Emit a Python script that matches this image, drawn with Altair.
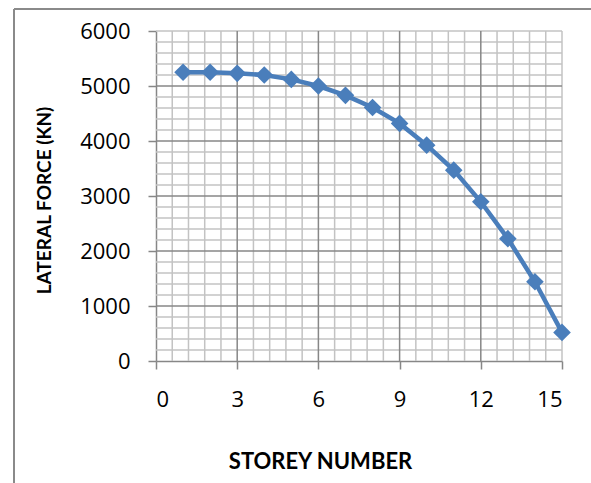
import altair as alt
import pandas as pd

# Storey number vs lateral force (kN)
storey = [1, 2, 3, 4, 5, 6, 7, 8, 9, 10, 11, 12, 13, 14, 15]
lateral_force = [5250, 5250, 5230, 5200, 5120, 5000, 4830, 4610, 4320, 3925, 3470, 2895, 2225, 1440, 520]

x_ticks = [0, 3, 6, 9, 12, 15]
y_ticks = [0, 1000, 2000, 3000, 4000, 5000, 6000]

# gridline positions: major every 3 storeys / 1000 kN, minor every 0.6 / 200
x_major = [3, 6, 9, 12]
y_major = [1000, 2000, 3000, 4000, 5000]
x_minor = [round(i * 0.6, 1) for i in range(1, 26) if i % 5 != 0] + [15]
y_minor = [i * 200 for i in range(1, 31) if i % 5 != 0] + [6000]

W, H = 406, 330
PAD_L, PAD_T = 156, 31
FONT = "Open Sans"
TITLE_FONT = "Lato"
MAJOR = "#878787"
MINOR = "#c3c3c3"
BLUE = "#4a7ebb"

df = pd.DataFrame({"storey": storey, "force": lateral_force})

xs = alt.Scale(domain=[0, 15], nice=False, zero=False)
ys = alt.Scale(domain=[0, 6000], nice=False)

x_axis = alt.Axis(
    values=x_ticks, title="STOREY NUMBER", grid=False, format="d",
    domainColor=MAJOR, domainWidth=1.5, tickColor=MAJOR, tickWidth=1.5, tickSize=8,
    labelFont=FONT, labelFontSize=22, labelColor="black", labelPadding=20,
    titleFont=TITLE_FONT, titleFontSize=22, titleFontWeight="bold", titleColor="black",
    titleX=164, titleY=100, titleAlign="center", titleBaseline="middle",
)
y_axis = alt.Axis(
    values=y_ticks, title="LATERAL FORCE (KN)", grid=False, format="d",
    domainColor=MAJOR, domainWidth=1.5, tickColor=MAJOR, tickWidth=1.5, tickSize=8,
    labelFont=FONT, labelFontSize=22, labelColor="black", labelPadding=18,
    titleFont=TITLE_FONT, titleFontSize=19, titleFontWeight="bold", titleColor="black",
    titleX=-112, titleY=169, titleAngle=270, titleAlign="center", titleBaseline="middle",
)


def xenc(field):
    return alt.X(field, scale=xs, axis=x_axis, title="STOREY NUMBER")


def yenc(field):
    return alt.Y(field, scale=ys, axis=y_axis, title="LATERAL FORCE (KN)")


minor_vx = alt.Chart(pd.DataFrame({"v": x_minor})).mark_rule(color=MINOR, strokeWidth=1.5).encode(x=xenc("v:Q"))
minor_hy = alt.Chart(pd.DataFrame({"v": y_minor})).mark_rule(color=MINOR, strokeWidth=1.5).encode(y=yenc("v:Q"))
major_vx = alt.Chart(pd.DataFrame({"v": x_major})).mark_rule(color=MAJOR, strokeWidth=1.5).encode(x=xenc("v:Q"))
major_hy = alt.Chart(pd.DataFrame({"v": y_major})).mark_rule(color=MAJOR, strokeWidth=1.5).encode(y=yenc("v:Q"))

line = alt.Chart(df).mark_line(color=BLUE, strokeWidth=4.5).encode(
    x=xenc("storey:Q"), y=yenc("force:Q"))
points = alt.Chart(df).mark_point(shape="diamond", filled=True, color=BLUE, size=310, opacity=1).encode(
    x=xenc("storey:Q"), y=yenc("force:Q"))

# chart frame (top and left edges)
frame_top = alt.Chart(df).mark_rule(color="#8a8a8a", strokeWidth=1.5).encode(
    x=alt.value(14 - PAD_L), x2=alt.value(591 - PAD_L), y=alt.value(9 - PAD_T))
frame_left = alt.Chart(df).mark_rule(color="#8a8a8a", strokeWidth=1.5).encode(
    x=alt.value(14 - PAD_L), y=alt.value(9 - PAD_T), y2=alt.value(483 - PAD_T))

chart = alt.layer(
    minor_vx, minor_hy, major_vx, major_hy, line, points, frame_top, frame_left
).properties(
    width=W, height=H,
    autosize=alt.AutoSizeParams(type="none"),
    padding={"left": PAD_L, "top": PAD_T, "right": 591 - PAD_L - W, "bottom": 483 - PAD_T - H},
    background="white",
).configure_view(stroke=None)

chart.save("out.html", embed_options={"renderer": "svg", "actions": False})
